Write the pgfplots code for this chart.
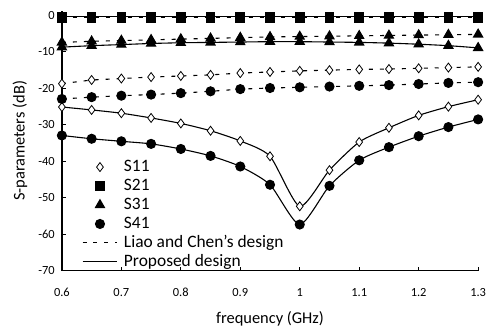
\documentclass[border=0pt]{standalone}
\usepackage{pgfplots}
\pgfplotsset{compat=1.18}
\usepackage{fontspec}
\setmainfont{Carlito}
\pgfplotstableread{
f p11 p21 p31 p41 l11 l21 l31 l41
0.60 -25.2 -0.4 -8.8 -33.0 -18.8 -0.8 -7.5 -23.0
0.65 -26.0 -0.4 -8.4 -33.9 -17.8 -0.8 -7.2 -22.5
0.70 -26.9 -0.4 -8.1 -34.6 -17.4 -0.8 -7.0 -22.1
0.75 -28.2 -0.4 -7.8 -35.3 -17.0 -0.8 -6.8 -21.8
0.80 -29.7 -0.4 -7.6 -36.7 -16.7 -0.8 -6.6 -21.4
0.85 -31.7 -0.4 -7.5 -38.6 -16.4 -0.8 -6.4 -20.9
0.90 -34.5 -0.4 -7.4 -41.5 -15.9 -0.8 -6.2 -20.3
0.95 -38.7 -0.4 -7.3 -46.5 -15.6 -0.8 -6.0 -20.0
1.00 -52.4 -0.4 -7.3 -57.4 -15.3 -0.8 -5.9 -19.8
1.05 -42.5 -0.4 -7.4 -46.8 -15.1 -0.8 -5.8 -19.6
1.10 -34.8 -0.4 -7.5 -39.8 -14.9 -0.8 -5.7 -19.4
1.15 -30.9 -0.4 -7.7 -36.2 -14.8 -0.8 -5.6 -19.2
1.20 -27.5 -0.4 -8.0 -33.2 -14.6 -0.8 -5.5 -18.9
1.25 -25.1 -0.4 -8.4 -30.7 -14.4 -0.8 -5.4 -18.6
1.30 -23.2 -0.4 -9.0 -28.6 -14.2 -0.8 -5.3 -18.4
}\data
\begin{document}
\begin{tikzpicture}
\begin{axis}[
  scale only axis,
  width=417bp, height=259.6bp,
  xmin=0.6, xmax=1.3, ymin=-70, ymax=1,
  axis x line=bottom, axis y line=left,
  axis line style={line width=1.3bp, -},
  tick align=inside, major tick length=4bp,
  tick style={line width=1bp, black},
  xtick={0.6,0.7,0.8,0.9,1.0,1.1,1.2,1.3},
  xticklabels={0.6,0.7,0.8,0.9,1,1.1,1.2,1.3},
  ytick={-70,-60,-50,-40,-30,-20,-10,0},
  yticklabels={-70,-60,-50,-40,-30,-20,-10,0},
  tick label style={font=\fontsize{12.5}{14}\selectfont, inner sep=0pt},
  xticklabel style={anchor=center, yshift=-22bp},
  yticklabel style={anchor=east, xshift=-7bp},
  xlabel={frequency (GHz)},
  ylabel={S-parameters (dB)},
  label style={font=\fontsize{16.5}{18}\selectfont},
  xlabel style={at={(axis description cs:0.5,0)}, anchor=center, yshift=-48bp},
  ylabel style={at={(axis description cs:0,0.5)}, anchor=center, yshift=42bp},
  legend image code/.code={\draw[mark repeat=2,mark phase=2,#1] plot coordinates {(0bp,0bp) (17.5bp,0bp) (35bp,0bp)};},
  legend style={draw=none, fill=none, at={(axis cs:0.6284,-38.8)}, anchor=north west,
    font=\fontsize{17.5}{19}\selectfont, nodes={inner sep=0pt, text height=12.5bp, text depth=4bp},
    row sep=2.5bp, column sep=6bp},
  legend cell align=left,
  every axis plot/.append style={black, line width=1.1bp},
  clip=false,
]
\addplot[smooth, tension=0.4, mark=diamond*, mark size=4.5bp, mark options={fill=white, line width=0.8bp}, forget plot] table[x=f,y=p11]{\data};
\addplot[mark=square*, mark size=4.3bp, forget plot] table[x=f,y=p21]{\data};
\addplot[smooth, mark=triangle*, mark size=5.2bp, forget plot] table[x=f,y=p31]{\data};
\addplot[smooth, tension=0.4, mark=*, mark size=4.5bp, forget plot] table[x=f,y=p41]{\data};
\addplot[dash pattern=on 4bp off 7bp, mark=diamond*, mark size=4.5bp, mark options={solid, fill=white, line width=0.8bp}, forget plot] table[x=f,y=l11]{\data};
\addplot[dash pattern=on 4bp off 7bp, mark=square*, mark size=4.3bp, mark options={solid}, forget plot] table[x=f,y=l21]{\data};
\addplot[dash pattern=on 4bp off 7bp, mark=triangle*, mark size=5.2bp, mark options={solid}, forget plot] table[x=f,y=l31]{\data};
\addplot[dash pattern=on 4bp off 7bp, mark=*, mark size=4.5bp, mark options={solid}, forget plot] table[x=f,y=l41]{\data};
\addlegendimage{only marks, black, mark=diamond*, mark size=4.5bp, mark options={fill=white, line width=0.8bp}}
\addlegendentry{S11}
\addlegendimage{only marks, black, mark=square*, mark size=4.3bp}
\addlegendentry{S21}
\addlegendimage{only marks, black, mark=triangle*, mark size=5.2bp}
\addlegendentry{S31}
\addlegendimage{only marks, black, mark=*, mark size=4.5bp}
\addlegendentry{S41}
\addlegendimage{black, line width=1.1bp, dash pattern=on 4bp off 7bp}
\addlegendentry{Liao and Chen's design}
\addlegendimage{black, line width=1.1bp}
\addlegendentry{Proposed design}
\end{axis}
\path (current axis.south west) ++(-62bp,-61bp) coordinate (bbA);
\path (current axis.north east) ++(7bp,11.4bp) coordinate (bbB);
\path (bbA) rectangle (bbB);
\end{tikzpicture}
\end{document}
